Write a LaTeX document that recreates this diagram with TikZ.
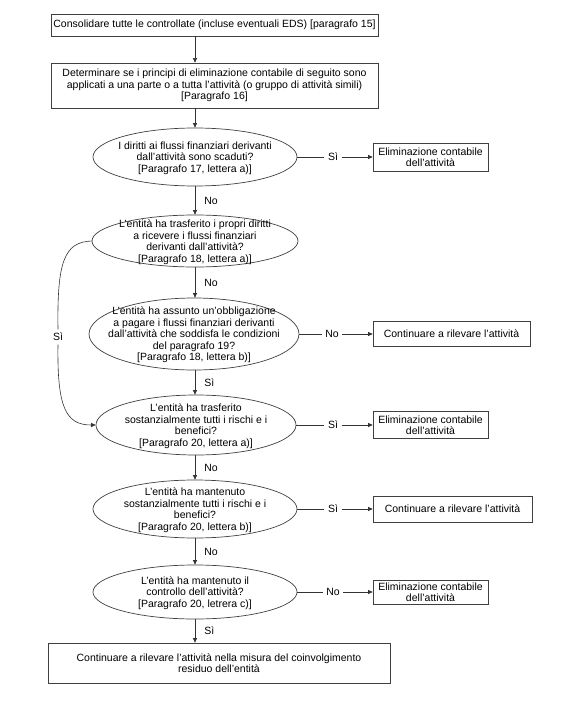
\documentclass[tikz,border=0pt]{standalone}
\usepackage{fontspec}
\setmainfont{Liberation Sans}
\usetikzlibrary{shapes.geometric,arrows.meta}
\begin{document}
\begin{tikzpicture}[x=1pt,y=-1pt,
  every node/.style={font=\fontsize{10.5}{11.5}\selectfont},
  box/.style={draw=black!75, line width=0.7pt, rectangle, inner sep=0pt, align=center},
  ell/.style={draw=black!75, line width=0.7pt, ellipse, inner sep=0pt},
  txt/.style={align=center, inner sep=0pt},
  lbl/.style={inner sep=3.5pt},
  vlbl/.style={inner sep=0pt, anchor=west, xshift=9pt},
  arr/.style={draw=black!80, line width=0.6pt, -{Triangle[length=4.5pt,width=4pt]}},
  ln/.style={draw=black!80, line width=0.6pt}]
\useasboundingbox (0,0) rectangle (581,709);

% main boxes
\node[box, minimum width=327pt, minimum height=22pt] (b1) at (214.5,25) {Consolidare tutte le controllate (incluse eventuali EDS) [paragrafo 15]};
\node[box, minimum width=327pt, minimum height=45pt] (b2) at (214.5,85.5) {Determinare se i principi di eliminazione contabile di seguito sono\\applicati a una parte o a tutta l’attività (o gruppo di attività simili)\\{}[Paragrafo 16]};

% ellipses
\node[ell, minimum width=204pt, minimum height=58pt] (e1) at (195,157) {};
\node[txt] (t1) at (195,158) {I diritti ai flussi finanziari derivanti\\dall’attività sono scaduti?\\{}[Paragrafo 17, lettera a)]};

\node[ell, minimum width=206pt, minimum height=52pt] (e2) at (195,241) {};
\node[txt] (t2) at (195,242) {L’entità ha trasferito i propri diritti\\a ricevere i flussi finanziari\\derivanti dall’attività?\\{}[Paragrafo 18, lettera a)]};

\node[ell, minimum width=210pt, minimum height=72pt] (e3) at (194,334) {};
\node[txt] (t3) at (194,335) {L’entità ha assunto un’obbligazione\\a pagare i flussi finanziari derivanti\\dall’attività che soddisfa le condizioni\\del paragrafo 19?\\{}[Paragrafo 18, lettera b)]};

\node[ell, minimum width=200pt, minimum height=60pt] (e4) at (196,425) {};
\node[txt] (t4) at (196,426) {L’entità ha trasferito\\sostanzialmente tutti i rischi e i\\benefici?\\{}[Paragrafo 20, lettera a)]};

\node[ell, minimum width=204pt, minimum height=58pt] (e5) at (195,509) {};
\node[txt] (t5) at (195,510) {L’entità ha mantenuto\\sostanzialmente tutti i rischi e i\\benefici?\\{}[Paragrafo 20, lettera b)]};

\node[ell, minimum width=204pt, minimum height=54pt] (e6) at (195,592) {};
\node[txt] (t6) at (195,593) {L’entità ha mantenuto il\\controllo dell’attività?\\{}[Paragrafo 20, letrera c)]};

\node[box, minimum width=342pt, minimum height=40pt] (bb) at (219,663) {Continuare a rilevare l’attività nella misura del coinvolgimento\\residuo dell’entità};

% right boxes
\node[box, minimum width=115pt, minimum height=28pt] (r1) at (430.5,157) {Eliminazione contabile\\dell’attività};
\node[box, minimum width=157pt, minimum height=25pt] (r2) at (451.5,334) {Continuare a rilevare l’attività};
\node[box, minimum width=115pt, minimum height=27pt] (r3) at (430.5,425) {Eliminazione contabile\\dell’attività};
\node[box, minimum width=159pt, minimum height=26pt] (r4) at (452.5,509) {Continuare a rilevare l’attività};
\node[box, minimum width=115pt, minimum height=24pt] (r5) at (430.5,592) {Eliminazione contabile\\dell’attività};

% right labels
\node[lbl] (s1) at (333,157) {Sì};
\node[lbl] (s2) at (332,334) {No};
\node[lbl] (s3) at (333,425) {Sì};
\node[lbl] (s4) at (333,509) {Sì};
\node[lbl] (s5) at (333,592) {No};

\draw[ln] (e1.east) -- (s1.west);  \draw[arr] (s1.east) -- (r1.west);
\draw[ln] (e3.east) -- (s2.west);  \draw[arr] (s2.east) -- (r2.west);
\draw[ln] (e4.east) -- (s3.west);  \draw[arr] (s3.east) -- (r3.west);
\draw[ln] (e5.east) -- (s4.west);  \draw[arr] (s4.east) -- (r4.west);
\draw[ln] (e6.east) -- (s5.west);  \draw[arr] (s5.east) -- (r5.west);

% vertical chain
\draw[arr] (b1.south -| e1.center) -- (b2.north -| e1.center);
\draw[arr] (b2.south -| e1.center) -- (e1.north);
\draw[arr] (e1.south) -- (e2.north -| e1.south) node[vlbl, midway] (n1) {No};
\draw[arr] (e2.south) -- (e3.north -| e2.south) node[vlbl, midway] (n2) {No};
\draw[arr] (e3.south -| e2.south) -- (e4.north -| e2.south) node[vlbl, midway] (n3) {Sì};
\draw[arr] (e4.south -| e2.south) -- (e5.north -| e2.south) node[vlbl, midway] (n4) {No};
\draw[arr] (e5.south) -- (e6.north) node[vlbl, midway] (n5) {No};
\draw[arr] (e6.south) -- (bb.north -| e6.south) node[vlbl, midway] (n6) {Sì};

% left curved connector
\node[lbl] (sL) at (58,337) {Sì};
\draw[ln] (e2.west) .. controls (64,242) and (57,262) .. (sL.north);
\draw[arr] (sL.south) .. controls (57,408) and (66,425) .. (e4.west);
\end{tikzpicture}
\end{document}
